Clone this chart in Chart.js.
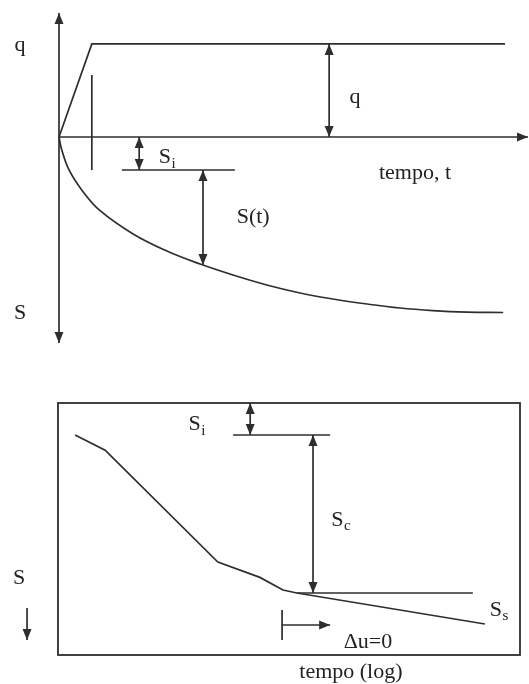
<!DOCTYPE html>
<html><head><meta charset="utf-8">
<script src="https://cdn.jsdelivr.net/npm/chart.js@4"></script>
<style>
html,body{margin:0;padding:0;background:#fff;}
#wrap{position:relative;width:529px;height:684px;background:#fff;}
.box{position:absolute;left:0;width:529px;}
</style></head><body>
<div id="wrap">
  <div class="box" style="top:0;height:360px"><canvas id="topChart" width="529" height="360"></canvas></div>
  <div class="box" style="top:360px;height:324px"><canvas id="botChart" width="529" height="324"></canvas></div>
</div>
<script>
// ===== TOP DIAGRAM: load q and settlement S against time t =====
const axisT = [0, 10];            // time axis extent
const axisQS = [1.333, -2.215];   // vertical axis extent (q up, S down)
const loadT = [0, 0.70, 9.51];
const loadQ = [0, 1, 1];
const settleT = [0, 0.06, 0.22, 0.50, 0.87, 1.58, 2.30, 3.01, 3.71, 4.43, 5.14, 5.84, 6.57, 7.27, 7.97, 8.70, 9.47];
const settleS = [0, -0.14, -0.36, -0.58, -0.79, -1.043, -1.226, -1.366, -1.484, -1.591, -1.677, -1.742, -1.796, -1.839, -1.866, -1.882, -1.887];
const endLoadingT = 0.70, endLoadingRange = [0.667, -0.355];
const qArrowT = 5.76, qArrowRange = [0, 1];
const siArrowT = 1.71, siValue = -0.355, siLevelT = [1.34, 3.75];
const stArrowT = 3.07, stValue = -1.376;

// ===== BOTTOM DIAGRAM: settlement vs log time =====
const logT = [0.37, 1.02, 3.46, 4.37, 4.87, 5.17, 9.24];
const logS = [1.27, 1.87, 6.31, 6.92, 7.42, 7.54, 8.77];
const siB = 1.27, siBArrowX = 4.16, siBLevelX = [3.79, 5.89];
const scArrowX = 5.52, scEnd = 7.54, ssLevelX = [5.17, 8.98];
const duTickX = 4.85, duTickS = [8.21, 9.40], duArrowS = 8.81, duArrowEndX = 5.89;
const sArrowX = -0.67, sArrowS = [8.13, 9.40];

const INK = '#2e2e2e';
const FONT = '"Liberation Serif", "Times New Roman", serif';

function seg(xs, ys, extra) {
  return Object.assign({
    data: xs.map((x, i) => ({x, y: ys[i]})),
    borderColor: INK, borderWidth: 1.7, pointRadius: 0, tension: 0, clip: false, fill: false
  }, extra || {});
}

const arrowPlugin = {
  id: 'arrowheads',
  afterDatasetsDraw(chart) {
    const ctx = chart.ctx;
    chart.data.datasets.forEach((ds, i) => {
      const pts = chart.getDatasetMeta(i).data;
      if (pts.length < 2) return;
      const heads = [];
      if (ds.arrowEnd) heads.push([pts[pts.length - 1], pts[pts.length - 2]]);
      if (ds.arrowStart) heads.push([pts[0], pts[1]]);
      heads.forEach(([tip, from]) => {
        const a = Math.atan2(tip.y - from.y, tip.x - from.x);
        const L = 11, W = 4.5;
        ctx.save();
        ctx.fillStyle = INK;
        ctx.beginPath();
        ctx.moveTo(tip.x, tip.y);
        ctx.lineTo(tip.x - L * Math.cos(a) + W * Math.sin(a), tip.y - L * Math.sin(a) - W * Math.cos(a));
        ctx.lineTo(tip.x - L * Math.cos(a) - W * Math.sin(a), tip.y - L * Math.sin(a) + W * Math.cos(a));
        ctx.closePath();
        ctx.fill();
        ctx.restore();
      });
    });
  }
};

function textPlugin(items) {
  return {
    id: 'texts',
    afterDraw(chart) {
      const ctx = chart.ctx, xs = chart.scales.x, ys = chart.scales.y;
      ctx.save();
      ctx.fillStyle = '#222222';
      ctx.textBaseline = 'middle';
      items.forEach(it => {
        const px = xs.getPixelForValue(it.x), py = ys.getPixelForValue(it.y);
        const size = it.size || 22;
        ctx.font = size + 'px ' + FONT;
        const w1 = ctx.measureText(it.text).width;
        let w2 = 0;
        if (it.sub) { ctx.font = Math.round(size * 0.68) + 'px ' + FONT; w2 = ctx.measureText(it.sub).width; }
        const x0 = px - (w1 + w2) / 2;
        ctx.textAlign = 'left';
        ctx.font = size + 'px ' + FONT;
        ctx.fillText(it.text, x0, py);
        if (it.sub) {
          ctx.font = Math.round(size * 0.68) + 'px ' + FONT;
          ctx.fillText(it.sub, x0 + w1 + 0.5, py + size * 0.3);
        }
      });
      ctx.restore();
    }
  };
}

const boxPlugin = {
  id: 'frame',
  beforeDatasetsDraw(chart) {
    const a = chart.chartArea, ctx = chart.ctx;
    ctx.save();
    ctx.strokeStyle = INK; ctx.lineWidth = 1.8;
    ctx.strokeRect(a.left, a.top, a.right - a.left, a.bottom - a.top);
    ctx.restore();
  }
};

const hiddenScales = (xmin, xmax, ymin, ymax, rev) => ({
  x: {type: 'linear', min: xmin, max: xmax, display: false},
  y: {type: 'linear', min: ymin, max: ymax, reverse: !!rev, display: false}
});

const baseOpts = {
  responsive: false, animation: false, devicePixelRatio: 1,
  plugins: {legend: {display: false}, tooltip: {enabled: false}},
  elements: {line: {borderCapStyle: 'butt'}}
};

// ---------- top chart ----------
new Chart(document.getElementById('topChart'), {
  type: 'line',
  data: {datasets: [
    seg([0, 0], axisQS, {arrowStart: true, arrowEnd: true}),
    seg(axisT, [0, 0], {arrowEnd: true}),
    seg(loadT, loadQ),
    seg(settleT, settleS, {tension: 0.4}),
    seg([endLoadingT, endLoadingT], endLoadingRange),
    seg([qArrowT, qArrowT], qArrowRange, {arrowStart: true, arrowEnd: true}),
    seg([siArrowT, siArrowT], [0, siValue], {arrowStart: true, arrowEnd: true}),
    seg(siLevelT, [siValue, siValue]),
    seg([stArrowT, stArrowT], [siValue, stValue], {arrowStart: true, arrowEnd: true})
  ]},
  options: Object.assign({}, baseOpts, {
    layout: {padding: {left: 59, right: 1, top: 13, bottom: 17}},
    scales: hiddenScales(axisT[0], axisT[1], axisQS[1], axisQS[0], false)
  }),
  plugins: [arrowPlugin, textPlugin([
    {x: -0.83, y: 0.99, text: 'q'},
    {x: 6.31, y: 0.43, text: 'q'},
    {x: 2.30, y: -0.215, text: 'S', sub: 'i'},
    {x: 4.14, y: -0.86, text: 'S(t)'},
    {x: 7.59, y: -0.387, text: 'tempo, t'},
    {x: -0.83, y: -1.89, text: 'S'}
  ])]
});

// ---------- bottom chart ----------
new Chart(document.getElementById('botChart'), {
  type: 'line',
  data: {datasets: [
    seg(logT, logS),
    seg([siBArrowX, siBArrowX], [0, siB], {arrowStart: true, arrowEnd: true}),
    seg(siBLevelX, [siB, siB]),
    seg([scArrowX, scArrowX], [siB, scEnd], {arrowStart: true, arrowEnd: true}),
    seg(ssLevelX, [scEnd, scEnd]),
    seg([duTickX, duTickX], duTickS),
    seg([duTickX, duArrowEndX], [duArrowS, duArrowS], {arrowEnd: true}),
    seg([sArrowX, sArrowX], sArrowS, {arrowEnd: true})
  ]},
  options: Object.assign({}, baseOpts, {
    layout: {padding: {left: 58, right: 9, top: 43, bottom: 29}},
    scales: hiddenScales(0, 10, 0, 10, true)
  }),
  plugins: [boxPlugin, arrowPlugin, textPlugin([
    {x: 3.0, y: 0.85, text: 'S', sub: 'i'},
    {x: 6.12, y: 4.64, text: 'S', sub: 'c'},
    {x: 9.54, y: 8.21, text: 'S', sub: 's'},
    {x: 6.71, y: 9.48, text: 'Δu=0'},
    {x: 6.34, y: 10.67, text: 'tempo (log)'},
    {x: -0.84, y: 6.94, text: 'S'}
  ])]
});
</script>
</body></html>
